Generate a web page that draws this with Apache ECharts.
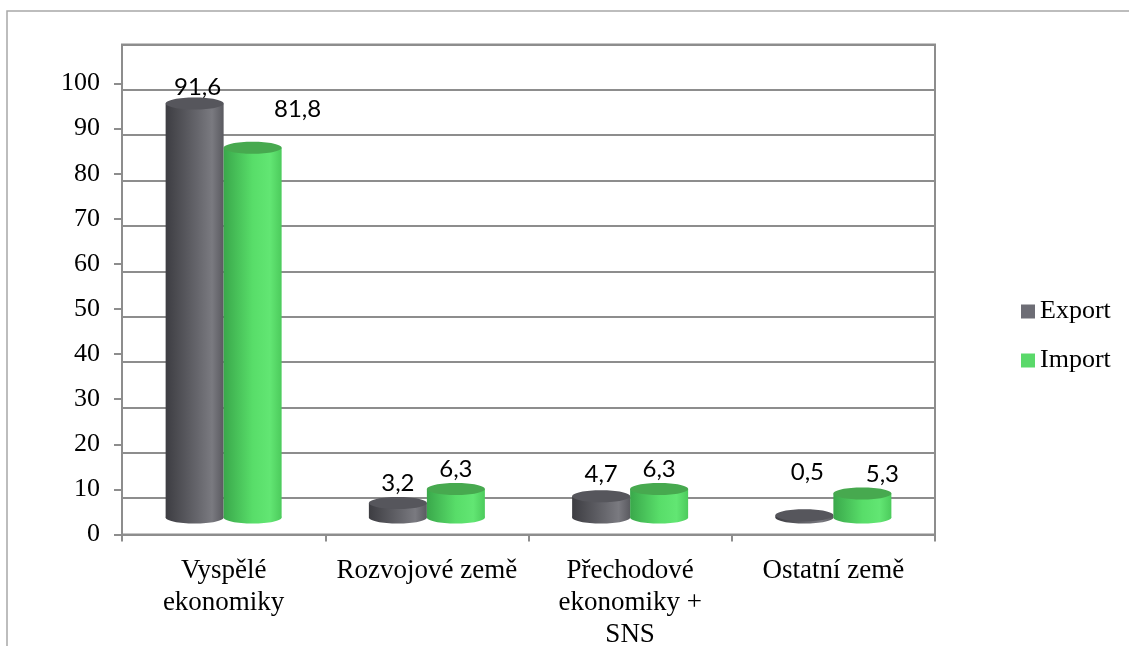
<!DOCTYPE html>
<html>
<head>
<meta charset="utf-8">
<title>Export / Import</title>
<script src="https://cdn.jsdelivr.net/npm/echarts@6/dist/echarts.min.js"></script>
<style>
  html, body { margin: 0; padding: 0; background: #fff; }
  #chart { width: 1129px; height: 646px; }
</style>
</head>
<body>
<div id="chart"></div>
<script>
// data
const categories = ['Vyspělé\nekonomiky', 'Rozvojové země', 'Přechodové\nekonomiky +\nSNS', 'Ostatní země'];
const seriesNames = ['Export', 'Import'];
const exportValues = [91.6, 3.2, 4.7, 0.5];
const importValues = [81.8, 6.3, 6.3, 5.3];
const yTicks = { min: 0, max: 100, step: 10 };

// label nudges (dx, dy from top of cylinder), like the excel 3d placement
const exportNudge = [[3, -16], [0, -20], [0, -22], [3, -43]];
const importNudge = [[45, -38], [0, -20], [0, -20], [20, -19]];

const lineGray = '#8d8d8d';
const serif = '"Liberation Serif", "Times New Roman", serif';
const sans = 'Lato, "Liberation Sans", sans-serif';

const palette = {
  Export: {
    legend: '#6d6d75',
    top: '#56565c',
    body: [[0, '#3d3d42'], [0.55, '#66666c'], [0.8, '#7a7a80'], [1, '#5a5a60']]
  },
  Import: {
    legend: '#5ad96a',
    top: '#47a94f',
    body: [[0, '#3aa84b'], [0.5, '#58dd69'], [0.8, '#62e673'], [1, '#4ccb5c']]
  }
};

const cylW = 58;
const ry = 6;

function cylinder(side, pal, nudge) {
  return function (params, api) {
    const i = api.value(0);
    const v = api.value(1);
    const top = api.coord([i, v]);
    const base = api.coord([i, 0]);
    const cx = top[0] + side * cylW / 2;
    const rx = cylW / 2;
    const grad = new echarts.graphic.LinearGradient(0, 0, 1, 0, pal.body.map(s => ({ offset: s[0], color: s[1] })));
    const n = nudge[params.dataIndex];
    return {
      type: 'group',
      children: [
        { type: 'ellipse', shape: { cx: cx, cy: base[1], rx: rx, ry: ry }, style: { fill: grad } },
        { type: 'rect', shape: { x: cx - rx, y: top[1], width: cylW, height: base[1] - top[1] }, style: { fill: grad } },
        { type: 'ellipse', shape: { cx: cx, cy: top[1], rx: rx, ry: ry }, style: { fill: pal.top } },
        {
          type: 'text',
          x: cx + n[0],
          y: top[1] + n[1],
          style: {
            text: v.toFixed(1).replace('.', ','),
            fill: '#000',
            font: '24px ' + sans,
            align: 'center',
            verticalAlign: 'middle'
          }
        }
      ]
    };
  };
}

const hiddenCat = { type: 'category', data: categories, show: false };
const hiddenVal = (min, max) => ({ type: 'value', min: min, max: max, show: false, splitLine: { show: false } });

const chart = echarts.init(document.getElementById('chart'));
chart.setOption({
  backgroundColor: '#fff',
  animation: false,
  graphic: [{
    type: 'rect',
    shape: { x: 7, y: 11, width: 1300, height: 800 },
    style: { fill: 'none', stroke: '#a8a8a8', lineWidth: 1.5 },
    silent: true
  }],
  legend: {
    data: seriesNames,
    orient: 'vertical',
    left: 1021,
    top: 297,
    padding: 0,
    icon: 'rect',
    itemWidth: 14,
    itemHeight: 14,
    itemGap: 20,
    textStyle: { fontFamily: serif, fontSize: 26, color: '#000', lineHeight: 26, padding: [3, 0, 0, 0] }
  },
  grid: [
    // axes, ticks, labels
    { left: 122, right: 194, top: 83.5, bottom: 111.5, outerBoundsMode: 'none', containLabel: false },
    // back wall with gridlines
    { left: 122, right: 194, top: 44.5, bottom: 148, show: true, borderColor: lineGray, borderWidth: 2, backgroundColor: 'transparent', outerBoundsMode: 'none' },
    // floor
    { left: 122, right: 194, top: 498, bottom: 111.5, show: true, borderColor: lineGray, borderWidth: 2, backgroundColor: 'transparent', outerBoundsMode: 'none' },
    // cylinders
    { left: 122, right: 194, top: 65.5, bottom: 128.5, outerBoundsMode: 'none' }
  ],
  xAxis: [
    {
      gridIndex: 0,
      type: 'category',
      data: categories,
      axisLine: { lineStyle: { color: lineGray, width: 2 } },
      axisTick: { show: true, length: 7, interval: 0, lineStyle: { color: lineGray, width: 2 } },
      axisLabel: { interval: 0, margin: 20, fontFamily: serif, fontSize: 27, color: '#000', lineHeight: 32 }
    },
    Object.assign({ gridIndex: 1 }, hiddenCat),
    Object.assign({ gridIndex: 2 }, hiddenCat),
    Object.assign({ gridIndex: 3 }, hiddenCat)
  ],
  yAxis: [
    {
      gridIndex: 0,
      type: 'value',
      min: yTicks.min,
      max: yTicks.max,
      interval: yTicks.step,
      axisLine: { show: true, lineStyle: { color: lineGray, width: 2 } },
      axisTick: { show: true, length: 8, lineStyle: { color: lineGray, width: 2 } },
      splitLine: { show: false },
      axisLabel: { margin: 22, fontFamily: serif, fontSize: 26, color: '#000' }
    },
    {
      gridIndex: 1,
      type: 'value',
      min: yTicks.min + yTicks.step,
      max: yTicks.max + yTicks.step,
      interval: yTicks.step,
      axisLine: { show: false },
      axisTick: { show: false },
      axisLabel: { show: false },
      splitLine: { show: true, lineStyle: { color: lineGray, width: 2 } }
    },
    Object.assign({ gridIndex: 2 }, hiddenVal(0, 1)),
    Object.assign({ gridIndex: 3 }, hiddenVal(yTicks.min, yTicks.max))
  ],
  series: [
    {
      name: 'Export',
      type: 'custom',
      xAxisIndex: 3,
      yAxisIndex: 3,
      clip: false,
      itemStyle: { color: palette.Export.legend },
      encode: { x: 0, y: 1 },
      data: exportValues.map((v, i) => [i, v]),
      renderItem: cylinder(-1, palette.Export, exportNudge)
    },
    {
      name: 'Import',
      type: 'custom',
      xAxisIndex: 3,
      yAxisIndex: 3,
      clip: false,
      itemStyle: { color: palette.Import.legend },
      encode: { x: 0, y: 1 },
      data: importValues.map((v, i) => [i, v]),
      renderItem: cylinder(1, palette.Import, importNudge)
    }
  ]
});
</script>
</body>
</html>
